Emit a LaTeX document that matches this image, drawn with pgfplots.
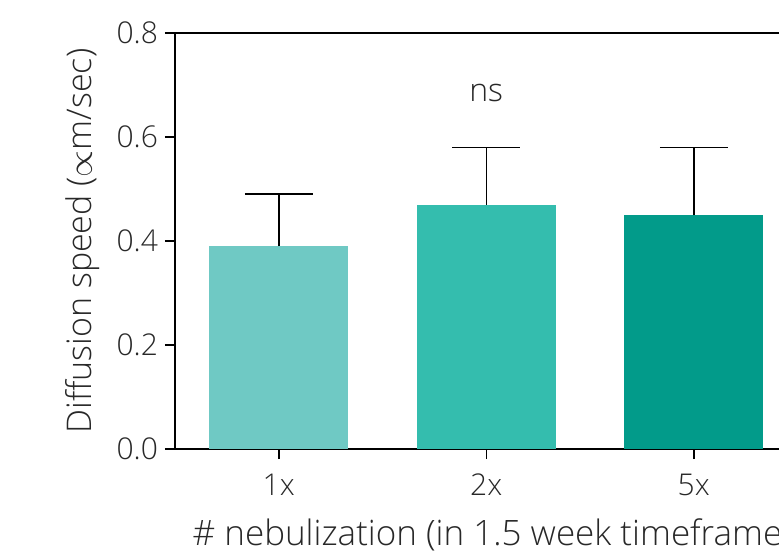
\documentclass[border=0pt]{standalone}
\usepackage{pgfplots}
\pgfplotsset{compat=1.18}
\usepackage{fontspec}
\setmainfont{Open Sans Light}
\definecolor{c1}{RGB}{111,201,196}
\definecolor{c2}{RGB}{52,189,174}
\definecolor{c3}{RGB}{2,155,138}
\definecolor{txt}{RGB}{40,40,40}
\begin{document}
\begin{tikzpicture}
\useasboundingbox (-87.5pt,-50.5pt) rectangle (302pt,224.5pt);
\clip (-87.5pt,-50.5pt) rectangle (302pt,224.5pt);
\begin{axis}[
  at={(0,0)}, anchor=south west,
  scale only axis, width=311.25pt, height=208pt,
  xmin=-0.5, xmax=2.5, ymin=0, ymax=0.8,
  ytick={0,0.2,0.4,0.6,0.8},
  xtick={0,1,2}, xticklabels={1x,2x,5x},
  xtick pos=bottom, ytick pos=left,
  tick align=outside, major tick length=5pt,
  axis line style={line width=0.75pt, black},
  tick style={line width=0.75pt, black},
  font=\fontsize{16}{19}\selectfont,
  tick label style={text=txt, font=\fontsize{15}{18}\selectfont},
  xticklabel style={yshift=-4pt},
  /pgf/number format/assume math mode=true,
  yticklabel style={/pgf/number format/.cd, fixed, fixed zerofill, precision=1},
  ylabel={Diffusion speed ($\propto$m/sec)},
  ylabel style={at={(axis description cs:0,0.5)}, anchor=base, yshift=41.5pt, text=txt, font=\fontsize{17}{20}\selectfont},
  xlabel={\# nebulization (in 1.5 week timeframe)},
  xlabel style={at={(axis description cs:0.5,0)}, anchor=base, yshift=-48pt, xshift=3pt, text=txt, font=\fontsize{17.5}{21}\selectfont},
  error bars/error bar style={line width=0.75pt, black},
  error bars/error mark options={rotate=90, mark size=17pt, line width=0.75pt, black},
]
\addplot[ybar, bar shift=0pt, bar width=69.5pt, fill=c1, draw=none,
  error bars/.cd, y dir=plus, y explicit] coordinates {(0,0.39) +- (0,0.10)};
\addplot[ybar, bar shift=0pt, bar width=69.5pt, fill=c2, draw=none,
  error bars/.cd, y dir=plus, y explicit] coordinates {(1,0.47) +- (0,0.11)};
\addplot[ybar, bar shift=0pt, bar width=69.5pt, fill=c3, draw=none,
  error bars/.cd, y dir=plus, y explicit] coordinates {(2,0.45) +- (0,0.13)};
\node[anchor=base, text=txt] at (axis cs:1,0.669) {ns};
\end{axis}
\end{tikzpicture}
\end{document}
